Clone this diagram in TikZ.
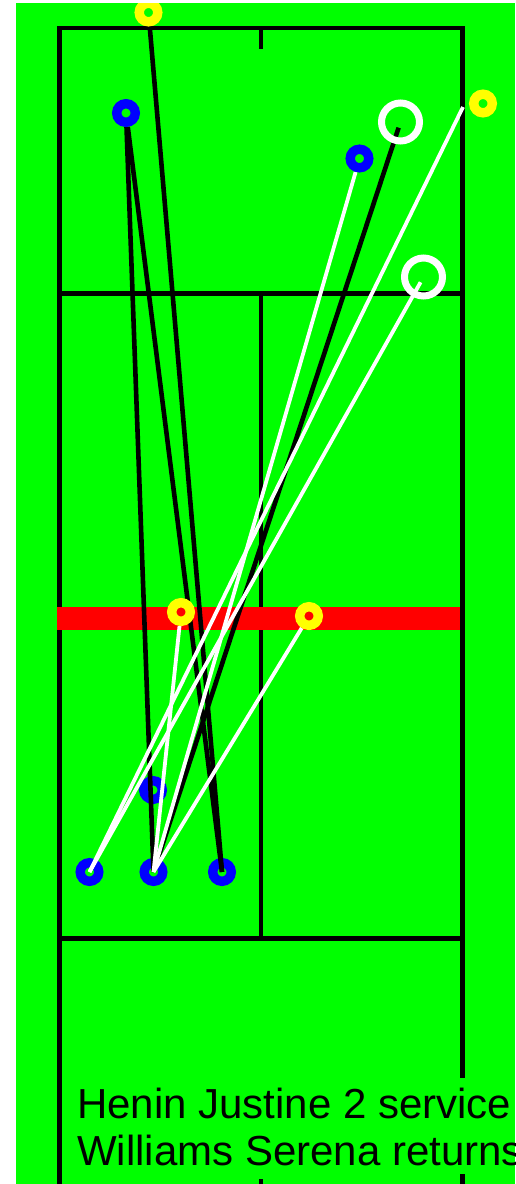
\documentclass[tikz,border=0pt]{standalone}
\usepackage{fontspec}
\setmainfont{Liberation Sans}
\usepackage{tikz}
\usetikzlibrary{positioning}

\definecolor{courtgreen}{RGB}{0,255,0}
\definecolor{netred}{RGB}{255,0,0}
\definecolor{markyellow}{RGB}{255,255,0}
\definecolor{markblue}{RGB}{0,0,255}

\begin{document}
\begin{tikzpicture}[x=1pt, y=-1pt,
  court/.style={line width=4.6pt, black},
  darkshot/.style={line width=4.6pt, black},
  lightshot/.style={line width=3.8pt, white},
  ballmark/.style={circle, draw=markyellow, line width=9.4pt, minimum size=18.6pt, inner sep=0pt},
  playermark/.style={circle, draw=markblue, line width=9.4pt, minimum size=18.6pt, inner sep=0pt},
  bigring/.style={circle, draw=white, line width=7pt, minimum size=38pt, inner sep=0pt},
  caption/.style={font=\fontsize{42}{46}\selectfont, anchor=base west, inner sep=0pt},
]
  \useasboundingbox (0,0) rectangle (515,1184);
  \fill[white] (0,0) rectangle (515,1184);
  \fill[courtgreen] (16,3) rectangle (515,1184);

  \begin{scope}
  \clip (16,3) rectangle (515,1184);

  % Court lines
  \draw[court] (59.7,1190) -- (59.7,28) -- (462.5,28) -- (462.5,1078);
  \draw[court] (462.5,1174) -- (462.5,1190);
  \draw[court] (59.7,293.5) -- (462.5,293.5);
  \draw[court] (59.7,938.5) -- (462.5,938.5);
  \draw[court] (261,293.5) -- (261,938.5);
  \draw[court] (261,28) -- (261,49);
  \draw[court] (261,1179) -- (261,1190);

  % Net
  \fill[netred] (57.3,607) rectangle (460,630);

  % Positions
  \coordinate (Y1) at (148.5,12.5);
  \coordinate (Y2) at (483,103.5);
  \coordinate (Y3) at (181,612);
  \coordinate (Y4) at (309,616);
  \coordinate (B1) at (126,113);
  \coordinate (B2) at (359.5,158.5);
  \coordinate (B3) at (153,790);
  \coordinate (B4) at (89.5,872);
  \coordinate (B5) at (153.5,872);
  \coordinate (B6) at (222,872);
  \coordinate (W1) at (400.5,122);
  \coordinate (W2) at (423.5,277);
  \coordinate (S2) at (463,107);

  % Markers below the shots
  \node[playermark] (b3) at (B3) {};
  \node[playermark] (b4) at (B4) {};
  \node[playermark] (b5) at (B5) {};
  \node[playermark] (b6) at (B6) {};

  % Shots
  \draw[darkshot, shorten <=14pt] (Y1) -- (B6);
  \draw[darkshot, shorten <=14pt] (B1) -- (B5);
  \draw[darkshot, shorten <=14pt] (B1) -- (B6);
  \draw[darkshot, shorten <=6pt] (W1) -- (B5);
  \draw[lightshot] (S2) -- (B4);
  \draw[lightshot, shorten <=6pt] (W2) -- (B4);
  \draw[lightshot, shorten <=14pt] (B2) -- (B5);
  \draw[lightshot, shorten <=14pt] (Y3) -- (B5);
  \draw[lightshot, shorten <=14pt] (Y4) -- (B5);

  % Markers above the shots
  \node[ballmark] (y1) at (Y1) {};
  \node[ballmark] (y2) at (Y2) {};
  \node[ballmark] (y3) at (Y3) {};
  \node[ballmark] (y4) at (Y4) {};
  \node[playermark] (b1) at (B1) {};
  \node[playermark] (b2) at (B2) {};
  \node[bigring] (w1) at (W1) {};
  \node[bigring] (w2) at (W2) {};

  % Caption
  \fill[courtgreen] (64,1078) rectangle (515,1174);
  \node[caption] (serve) at (77,1118) {Henin Justine 2 service};
  \node[caption] (reply) at (77,1165) {Williams Serena returns};
  \end{scope}
\end{tikzpicture}
\end{document}
